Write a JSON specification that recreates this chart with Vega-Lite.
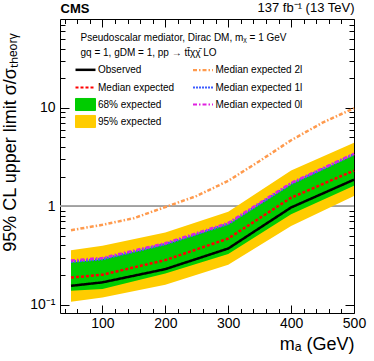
{
  "$schema": "https://vega.github.io/schema/vega-lite/v6.json",
  "width": 294,
  "height": 294,
  "autosize": {"type": "none"},
  "padding": {"left": 60, "top": 19, "right": 20, "bottom": 48},
  "background": "white",
  "config": {
    "view": {"stroke": "black", "strokeWidth": 1},
    "font": "Liberation Sans",
    "axis": {
      "labelFont": "Liberation Sans",
      "titleFont": "Liberation Sans",
      "labelColor": "black",
      "titleColor": "black",
      "tickColor": "black",
      "tickWidth": 1,
      "grid": false,
      "domain": false,
      "titleFontWeight": "normal",
      "labelOverlap": false,
      "labelFlush": false
    }
  },
  "datasets": {
    "bands": [
      {"x": 50, "lo95": 0.107, "hi95": 0.357, "lo68": 0.138, "hi68": 0.268},
      {"x": 100, "lo95": 0.118, "hi95": 0.395, "lo68": 0.144, "hi68": 0.288},
      {"x": 200, "lo95": 0.159, "hi95": 0.54, "lo68": 0.207, "hi68": 0.408},
      {"x": 300, "lo95": 0.254, "hi95": 0.88, "lo68": 0.326, "hi68": 0.655},
      {"x": 400, "lo95": 0.63, "hi95": 2.3, "lo68": 0.83, "hi68": 1.68},
      {"x": 500, "lo95": 1.27, "hi95": 4.42, "lo68": 1.61, "hi68": 3.32}
    ],
    "lines": [
      {"series": "Median expected 2l", "x": 50, "y": 0.57},
      {"series": "Median expected 2l", "x": 100, "y": 0.646},
      {"series": "Median expected 2l", "x": 150, "y": 0.755},
      {"series": "Median expected 2l", "x": 200, "y": 0.98},
      {"series": "Median expected 2l", "x": 250, "y": 1.27},
      {"series": "Median expected 2l", "x": 300, "y": 1.81},
      {"series": "Median expected 2l", "x": 350, "y": 2.88},
      {"series": "Median expected 2l", "x": 400, "y": 4.68},
      {"series": "Median expected 2l", "x": 450, "y": 7.06},
      {"series": "Median expected 2l", "x": 500, "y": 9.9},
      {"series": "Median expected 1l", "x": 50, "y": 0.272},
      {"series": "Median expected 1l", "x": 100, "y": 0.29},
      {"series": "Median expected 1l", "x": 200, "y": 0.411},
      {"series": "Median expected 1l", "x": 300, "y": 0.66},
      {"series": "Median expected 1l", "x": 400, "y": 1.69},
      {"series": "Median expected 1l", "x": 500, "y": 3.37},
      {"series": "Median expected 0l", "x": 50, "y": 0.28},
      {"series": "Median expected 0l", "x": 100, "y": 0.298},
      {"series": "Median expected 0l", "x": 200, "y": 0.42},
      {"series": "Median expected 0l", "x": 300, "y": 0.675},
      {"series": "Median expected 0l", "x": 400, "y": 1.72},
      {"series": "Median expected 0l", "x": 500, "y": 3.42},
      {"series": "Median expected", "x": 50, "y": 0.188},
      {"series": "Median expected", "x": 100, "y": 0.201},
      {"series": "Median expected", "x": 200, "y": 0.283},
      {"series": "Median expected", "x": 300, "y": 0.469},
      {"series": "Median expected", "x": 400, "y": 1.22},
      {"series": "Median expected", "x": 500, "y": 2.3},
      {"series": "Observed", "x": 50, "y": 0.155},
      {"series": "Observed", "x": 100, "y": 0.168},
      {"series": "Observed", "x": 200, "y": 0.229},
      {"series": "Observed", "x": 300, "y": 0.371},
      {"series": "Observed", "x": 400, "y": 0.97},
      {"series": "Observed", "x": 500, "y": 1.86}
    ]
  },
  "layer": [
    {
      "data": {"name": "bands"},
      "mark": {"type": "rule", "color": "#a0a0a0", "strokeWidth": 1},
      "encoding": {"y": {"datum": 1, "type": "quantitative", "axis": null}}
    },
    {
      "data": {"name": "bands"},
      "mark": {"type": "area", "opacity": 1},
      "encoding": {
        "x": {
          "field": "x", "type": "quantitative",
          "scale": {"domain": [32.5, 500], "nice": false, "zero": false},
          "axis": {
            "orient": "bottom",
            "values": [40, 60, 80, 100, 120, 140, 160, 180, 200, 220, 240, 260, 280, 300, 320, 340, 360, 380, 400, 420, 440, 460, 480, 500],
            "labelExpr": "datum.value % 100 == 0 ? datum.value : ''",
            "tickSize": {"condition": {"test": "datum.value % 100 == 0", "value": -8}, "value": -4.5},
            "labelPadding": 11,
            "labelFontSize": 14,
            "title": "mₐ (GeV)",
            "titleFontSize": 18,
            "titleAnchor": "end",
            "titlePadding": 2
          }
        },
        "y": {
          "field": "lo95", "type": "quantitative",
          "scale": {"type": "log", "domain": [0.082, 80], "nice": false},
          "axis": {
            "orient": "left",
            "values": [0.1, 0.2, 0.3, 0.4, 0.5, 0.6, 0.7, 0.8, 0.9, 1, 2, 3, 4, 5, 6, 7, 8, 9, 10, 20, 30, 40, 50, 60, 70],
            "labelExpr": "datum.value == 0.1 ? '10⁻¹' : datum.value == 1 ? '1' : datum.value == 10 ? '10' : ''",
            "tickSize": {"condition": {"test": "datum.value == 0.1 || datum.value == 1 || datum.value == 10", "value": -9}, "value": -5},
            "labelPadding": 14,
            "labelFontSize": 14,
            "title": "95% CL upper limit σ/σₜₕₑₒᵣᵧ",
            "titleFontSize": 18,
            "titleAnchor": "end",
            "titleY": 14,
            "titlePadding": 10
          }
        },
        "y2": {"field": "hi95"},
        "color": {"datum": "95% expected", "type": "nominal"}
      }
    },
    {
      "data": {"name": "bands"},
      "mark": {"type": "area", "opacity": 1},
      "encoding": {
        "x": {
          "field": "x", "type": "quantitative",
          "axis": {
            "orient": "top",
            "values": [40, 60, 80, 100, 120, 140, 160, 180, 200, 220, 240, 260, 280, 300, 320, 340, 360, 380, 400, 420, 440, 460, 480, 500],
            "labels": false,
            "tickSize": {"condition": {"test": "datum.value % 100 == 0", "value": -8}, "value": -4.5},
            "title": "137 fb⁻¹ (13 TeV)",
            "titleFontSize": 13,
            "titleAnchor": "end",
            "titlePadding": 4
          }
        },
        "y": {
          "field": "lo68", "type": "quantitative",
          "axis": {
            "orient": "right",
            "values": [0.1, 0.2, 0.3, 0.4, 0.5, 0.6, 0.7, 0.8, 0.9, 1, 2, 3, 4, 5, 6, 7, 8, 9, 10, 20, 30, 40, 50, 60, 70],
            "labels": false,
            "tickSize": {"condition": {"test": "datum.value == 0.1 || datum.value == 1 || datum.value == 10", "value": -9}, "value": -5},
            "title": null
          }
        },
        "y2": {"field": "hi68"},
        "color": {"datum": "68% expected", "type": "nominal"}
      }
    },
    {
      "data": {"name": "lines"},
      "mark": {"type": "line", "strokeCap": "butt"},
      "encoding": {
        "x": {
          "field": "x", "type": "quantitative",
          "axis": {
            "orient": "top",
            "labels": false,
            "ticks": false,
            "title": "CMS",
            "titleFontSize": 13,
            "titleFontWeight": "bold",
            "titleAnchor": "start",
            "titlePadding": 4
          }
        },
        "y": {"field": "y", "type": "quantitative", "axis": null},
        "color": {
          "field": "series", "type": "nominal",
          "scale": {
            "domain": ["Observed", "Median expected", "68% expected", "95% expected", "Median expected 2l", "Median expected 1l", "Median expected 0l"],
            "range": ["#000000", "#ff0000", "#00cc00", "#ffcc00", "#ff9a4d", "#3d5cff", "#e020e0"]
          },
          "legend": {
            "orient": "none",
            "legendX": 20.5,
            "legendY": 14,
            "padding": 0,
            "title": ["Pseudoscalar mediator, Dirac DM, mᵪ = 1 GeV", "gq = 1, gDM = 1, pp → tt̄χχ̄  LO"],
            "titleFontSize": 10,
            "titleFontWeight": "normal",
            "titleFont": "Liberation Sans",
            "titleColor": "black",
            "titleLineHeight": 15,
            "titlePadding": 6.5,
            "titleLimit": 400,
            "labelLimit": 300,
            "columns": 2,
            "columnPadding": 13.5,
            "rowPadding": -9.1,
            "labelFontSize": 10,
            "labelFont": "Liberation Sans",
            "labelColor": "black",
            "labelOffset": 7.5,
            "symbolSize": 216,
            "encode": {
              "symbols": {
                "update": {
                  "shape": {"signal": "datum.label == '68% expected' || datum.label == '95% expected' ? 'M0,-1M-1.36,-0.82H1.36V0.82H-1.36ZM0,1' : 'M0,-1M-1.36,0H1.36M0,1'"},
                  "fill": {"signal": "datum.label == '68% expected' ? '#00cc00' : datum.label == '95% expected' ? '#ffcc00' : 'transparent'"},
                  "stroke": {"signal": "datum.label == 'Observed' ? '#000000' : datum.label == 'Median expected' ? '#ff0000' : datum.label == 'Median expected 2l' ? '#ff9a4d' : datum.label == 'Median expected 1l' ? '#3d5cff' : datum.label == 'Median expected 0l' ? '#e020e0' : datum.label == '68% expected' ? '#3c6a3c' : '#8a7030'"},
                  "strokeDash": {"signal": "datum.label == 'Median expected' ? [3, 2] : datum.label == 'Median expected 2l' ? [4, 2, 1.5, 2] : datum.label == 'Median expected 1l' ? [2, 1] : datum.label == 'Median expected 0l' ? [4, 2, 1.5, 2] : []"},
                  "strokeWidth": {"signal": "datum.label == 'Observed' ? 2.5 : datum.label == '68% expected' || datum.label == '95% expected' ? 1 : 2.2"},
                  "opacity": {"value": 1}
                }
              }
            }
          }
        },
        "strokeDash": {
          "field": "series", "type": "nominal",
          "scale": {
            "domain": ["Observed", "Median expected", "Median expected 2l", "Median expected 1l", "Median expected 0l"],
            "range": [[1, 0], [3, 2], [4, 2, 1.5, 2], [2, 1], [4, 2, 1.5, 2]]
          },
          "legend": null
        },
        "strokeWidth": {
          "field": "series", "type": "nominal",
          "scale": {
            "domain": ["Observed", "Median expected", "Median expected 2l", "Median expected 1l", "Median expected 0l"],
            "range": [2.5, 2.5, 2.2, 2, 2.2]
          },
          "legend": null
        }
      }
    }
  ],
  "resolve": {"axis": {"x": "independent", "y": "independent"}}
}
